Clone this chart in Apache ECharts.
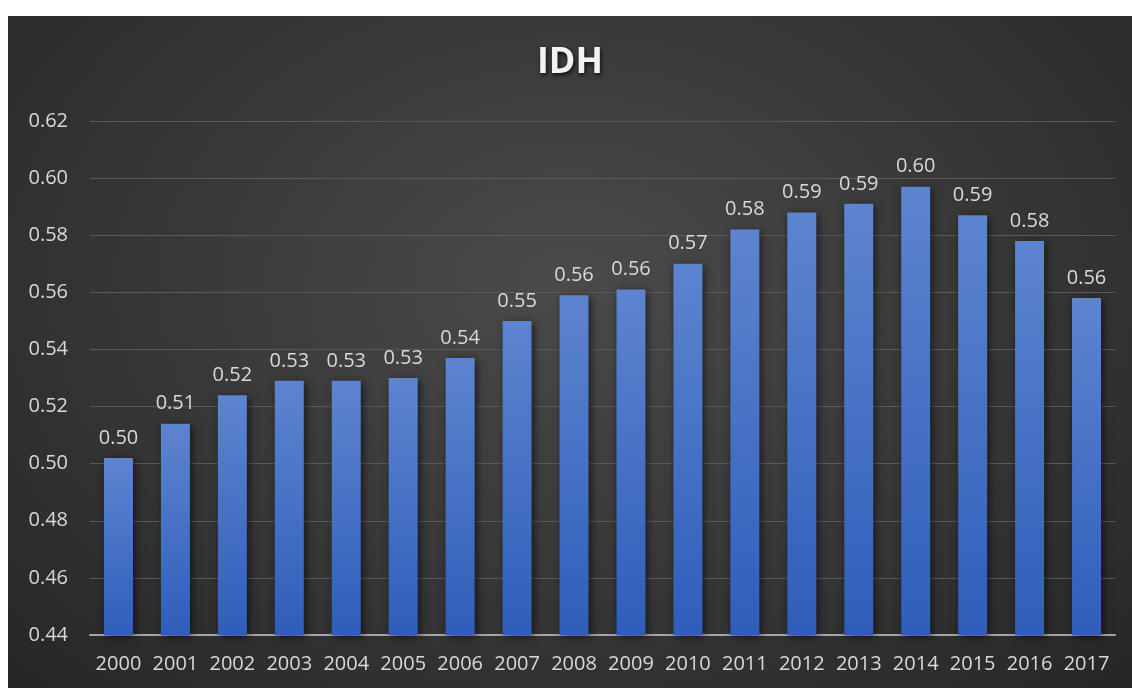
<!DOCTYPE html>
<html>
<head>
<meta charset="utf-8">
<title>IDH</title>
<script src="https://cdn.jsdelivr.net/npm/echarts@6/dist/echarts.min.js"></script>
<style>
	html, body {
		margin: 0;
		padding: 0;
		background: #ffffff;
	}
	#chart {
		position: absolute;
		left: 8px;
		top: 16px;
		width: 1124px;
		height: 672px;
		background: radial-gradient(ellipse at 50% 40%, #4b4b4b 0%, #3a3a3a 45%, #262626 100%);
	}
</style>
</head>
<body>
<div id="chart"></div>
<script>
	var years = ['2000', '2001', '2002', '2003', '2004', '2005', '2006', '2007', '2008',
		'2009', '2010', '2011', '2012', '2013', '2014', '2015', '2016', '2017'];
	var idh = [0.502, 0.514, 0.524, 0.529, 0.529, 0.530, 0.537, 0.550, 0.559,
		0.561, 0.570, 0.582, 0.588, 0.591, 0.597, 0.587, 0.578, 0.558];
	var yTicks = { min: 0.44, max: 0.62, step: 0.02 };

	var chart = echarts.init(document.getElementById('chart'));
	var fontFamily = '"Open Sans", "Noto Sans", sans-serif';
	chart.setOption({
		animation: false,
		title: {
			text: 'IDH',
			left: 'center',
			top: 24,
			textStyle: {
				color: '#f2f2f2',
				fontSize: 36,
				fontWeight: 'bold',
				fontFamily: fontFamily,
				textShadowColor: 'rgba(0,0,0,0.8)',
				textShadowBlur: 4,
				textShadowOffsetX: 1,
				textShadowOffsetY: 2
			}
		},
		grid: {
			left: 82,
			right: 17,
			top: 105,
			bottom: 53
		},
		xAxis: {
			type: 'category',
			data: years,
			axisTick: { show: false },
			axisLine: { lineStyle: { color: '#a6a6a6', width: 2 } },
			axisLabel: {
				interval: 0,
				color: '#d9d9d9',
				fontSize: 20,
				margin: 19,
				fontFamily: fontFamily
			}
		},
		yAxis: {
			type: 'value',
			min: yTicks.min,
			max: yTicks.max,
			interval: yTicks.step,
			axisLine: { show: false },
			axisTick: { show: false },
			splitLine: { lineStyle: { color: '#595959', width: 1 } },
			axisLabel: {
				color: '#d9d9d9',
				fontSize: 20,
				margin: 22,
				fontFamily: fontFamily,
				formatter: function (v) { return v.toFixed(2); }
			}
		},
		series: [{
			name: 'IDH',
			type: 'bar',
			data: idh,
			barWidth: 29,
			itemStyle: {
				color: new echarts.graphic.LinearGradient(0, 0, 0, 1, [
					{ offset: 0, color: '#5d84cf' },
					{ offset: 1, color: '#2f5eba' }
				]),
				shadowColor: 'rgba(0,0,0,0.6)',
				shadowBlur: 8,
				shadowOffsetX: 2,
				shadowOffsetY: 2
			},
			label: {
				show: true,
				position: 'top',
				distance: 10,
				color: '#d9d9d9',
				fontSize: 20,
				fontFamily: fontFamily,
				formatter: function (p) { return p.value.toFixed(2); }
			}
		}]
	});
</script>
</body>
</html>
